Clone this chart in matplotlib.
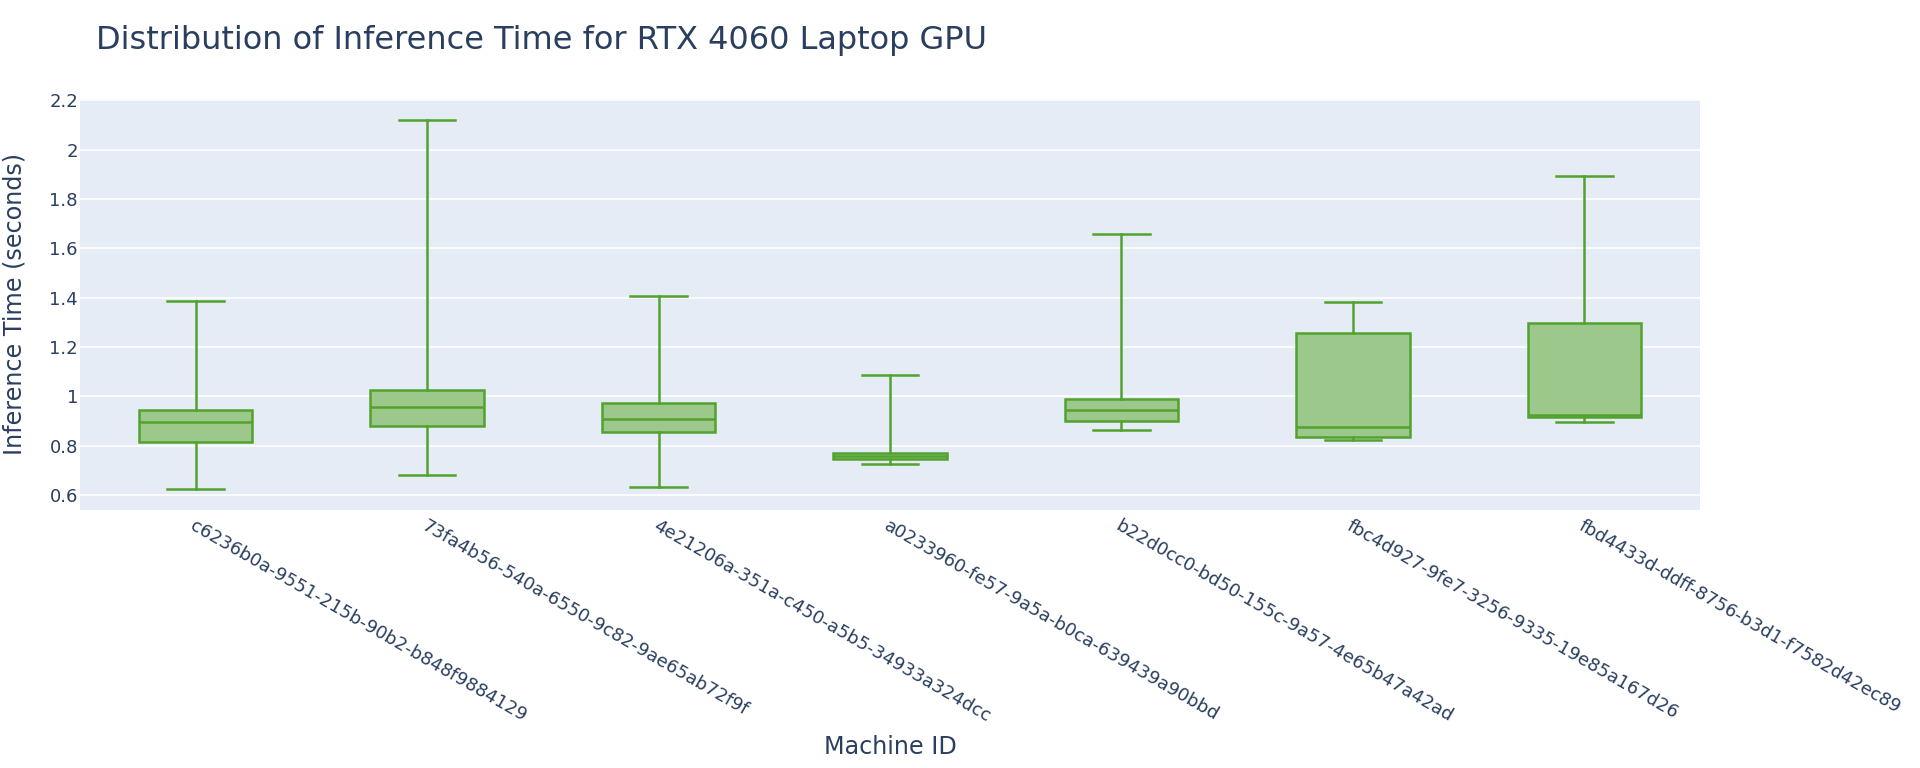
import matplotlib
matplotlib.use("Agg")
import matplotlib.pyplot as plt

plt.rcParams["font.family"] = ["DejaVu Sans"]

# -------------------- data --------------------
machine_ids = [
    "c6236b0a-9551-215b-90b2-b848f9884129",
    "73fa4b56-540a-6550-9c82-9ae65ab72f9f",
    "4e21206a-351a-c450-a5b5-34933a324dcc",
    "a0233960-fe57-9a5a-b0ca-639439a90bbd",
    "b22d0cc0-bd50-155c-9a57-4e65b47a42ad",
    "fbc4d927-9fe7-3256-9335-19e85a167d26",
    "fbd4433d-ddff-8756-b3d1-f7582d42ec89",
]
lower_fence = [0.623, 0.682, 0.632, 0.725, 0.863, 0.823, 0.896]
q1 = [0.813, 0.878, 0.856, 0.747, 0.900, 0.836, 0.915]
median = [0.894, 0.958, 0.908, 0.759, 0.945, 0.874, 0.924]
q3 = [0.944, 1.024, 0.971, 0.771, 0.989, 1.256, 1.298]
upper_fence = [1.388, 2.118, 1.407, 1.085, 1.658, 1.384, 1.892]

TEXT = "#2a3f5f"
LINE = "#52a22e"
FILL = "#9cc88b"
BG = "#e5ecf6"


def main():
    fig = plt.figure(figsize=(19.2, 7.68), dpi=100)
    ax = fig.add_axes([80 / 1920, 1 - 510 / 768, 1620 / 1920, 411 / 768])
    ax.set_facecolor(BG)

    stats = []
    for i, name in enumerate(machine_ids):
        stats.append(dict(
            label=name,
            whislo=lower_fence[i],
            q1=q1[i],
            med=median[i],
            q3=q3[i],
            whishi=upper_fence[i],
            fliers=[],
        ))

    lw = 1.8
    ax.bxp(
        stats,
        positions=range(len(stats)),
        widths=0.49,
        patch_artist=True,
        showfliers=False,
        boxprops=dict(facecolor=FILL, edgecolor=LINE, linewidth=lw),
        medianprops=dict(color=LINE, linewidth=lw),
        whiskerprops=dict(color=LINE, linewidth=lw),
        capprops=dict(color=LINE, linewidth=lw),
        capwidths=0.245,
        zorder=3,
    )

    ax.set_xlim(-0.5, len(stats) - 0.5)
    ax.set_ylim(0.539, 2.205)
    yticks = [0.6, 0.8, 1.0, 1.2, 1.4, 1.6, 1.8, 2.0, 2.2]
    ax.set_yticks(yticks)
    ax.set_yticklabels(["0.6", "0.8", "1", "1.2", "1.4", "1.6", "1.8", "2", "2.2"])
    ax.grid(axis="y", color="white", linewidth=1.2, zorder=0)
    ax.set_axisbelow(True)
    for s in ax.spines.values():
        s.set_visible(False)
    ax.tick_params(axis="both", length=0, labelsize=13, colors=TEXT)
    ax.tick_params(axis="y", pad=1.5)

    ax.set_xticks(range(len(stats)))
    ax.set_xticklabels(machine_ids, rotation=-30, ha="left", rotation_mode="anchor")
    for lbl in ax.get_xticklabels():
        lbl.set_color(TEXT)
    ax.tick_params(axis="x", pad=5)

    fig.text(890 / 1920, 1 - 747 / 768, "Machine ID", ha="center", va="center",
             fontsize=17.2, color=TEXT)
    fig.text(15 / 1920, 1 - 304 / 768, "Inference Time (seconds)", ha="center",
             va="center", rotation=90, fontsize=17.2, color=TEXT)
    fig.text(96 / 1920, 1 - 40 / 768, "Distribution of Inference Time for RTX 4060 Laptop GPU",
             ha="left", va="center", fontsize=23, color=TEXT)

    fig.savefig("out.png", dpi=100, facecolor="white")


if __name__ == "__main__":
    main()
